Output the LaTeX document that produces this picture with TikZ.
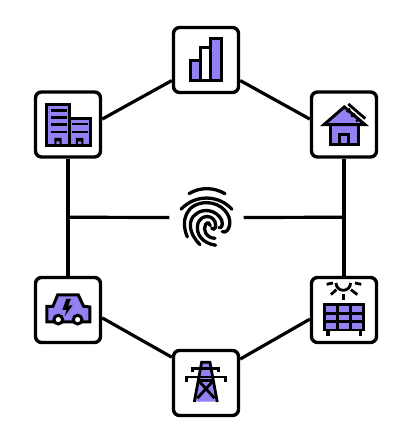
\documentclass[tikz,border=0pt]{standalone}
\usepackage{tikz}
\usetikzlibrary{calc}
\definecolor{iconfill}{HTML}{9181F2}

\begin{document}
\begin{tikzpicture}[x=1pt, y=-1pt,
    hub/.style={draw, fill=white, line width=3.4pt, rounded corners=6pt,
                minimum size=65pt, inner sep=0pt},
    link/.style={line width=3.2pt},
    ico/.style={draw, fill=iconfill, line width=3pt},
    stroke/.style={line width=2.8pt},
    ridge/.style={line width=3.3pt, line cap=round}]
  \useasboundingbox (0,0) rectangle (408,446);

  %% Device boxes
  \node[hub] (bars)   at (206, 60)     {};
  \node[hub] (office) at (68, 124.5)   {};
  \node[hub] (house)  at (344,124.5)   {};
  \node[hub] (car)    at (68, 310)     {};
  \node[hub] (solar)  at (344,310)     {};
  \node[hub] (tower)  at (206,383)     {};
  \node[minimum size=74pt, inner sep=0pt] (print) at (206.5,217.5) {};

  %% Ring
  \draw[link] (office.9)  -- (bars.211);
  \draw[link] (bars.-31)  -- (house.171);
  \draw[link] (car.-13)   -- (tower.143);
  \draw[link] (tower.35)  -- (solar.195);
  \draw[link] (office) -- (car);
  \draw[link] (house) -- (solar);

  %% Spokes
  \coordinate (jl) at ($(office)!0.5!(car)$);
  \coordinate (jr) at ($(house)!0.5!(solar)$);
  \draw[link] (jl) -- (print.west);
  \draw[link] (print.east) -- (jr);

  %% Bar chart
  \begin{scope}[shift={(160,15)}, x=0.333pt, y=-0.333pt]
    \draw[ico] (92,137) rectangle (122,198);
    \draw[ico, fill=white] (122,98) rectangle (153,198);
    \draw[ico] (153,72) rectangle (185,198);
  \end{scope}

  %% Office
  \begin{scope}[shift={(25,82)}, x=0.333pt, y=-0.333pt]
    \draw[ico] (65,67) rectangle (133,190);
    \draw[ico] (133,110) rectangle (196,190);
    \foreach \yy in {86,106,128,150} \draw[stroke] (78,\yy) -- (126,\yy);
    \foreach \yy in {126,150} \draw[stroke] (140,\yy) -- (190,\yy);
    \fill (88,190) -- (88,168) -- (110,168) -- (110,190) -- (104,190) -- (104,178) -- (94,178) -- (94,190) -- cycle;
    \fill (153,190) -- (153,168) -- (175,168) -- (175,190) -- (169,190) -- (169,178) -- (159,178) -- (159,190) -- cycle;
  \end{scope}

  %% House with roof panel
  \begin{scope}[shift={(300,82)}, x=0.333pt, y=-0.333pt]
    \draw[ico] (92,128) rectangle (175,188);
    \draw[ico, fill=iconfill] (120,158) rectangle (147,188);
    \draw[ico, miter limit=3] (72,128) -- (133,75) -- (195,128) -- cycle;
    \draw[stroke] (145,66) -- (196,110);
    \foreach \aa/\bb in {150/140,165/154,180/168} \draw[line width=2.2pt] (\aa,{\aa-70}) -- (\bb,{\bb-50});
  \end{scope}

  %% Electric car
  \begin{scope}[shift={(25,267)}, x=0.333pt, y=-0.333pt]
    \draw[ico] (66,118) -- (84,118) -- (98,84) -- (160,84) -- (176,118) -- (195,120) -- (195,165) -- (66,165) -- cycle;
    \fill (124,96) -- (112,129) -- (125,129) -- (119,148) -- (143,115) -- (130,115) -- (138,96) -- cycle;
    \draw[ico, fill=white] (100,158) circle (13);
    \draw[ico, fill=white] (158,158) circle (13);
  \end{scope}

  %% Sun and panel
  \begin{scope}[shift={(300,267)}, x=0.333pt, y=-0.333pt]
    \draw[stroke] (108,48) arc[start angle=180, end angle=0, radius=22];
    \draw[stroke] (80,52) -- (99,48);
    \draw[stroke] (165,48) -- (184,52);
    \draw[stroke] (93,83) -- (109,68);
    \draw[stroke] (153,68) -- (172,83);
    \draw[stroke] (131,82) -- (131,100);
    \fill (68,108) rectangle (195,192);
    \foreach \xx in {78,117,156} \foreach \yy in {118,143,168}
      \fill[iconfill] (\xx,\yy) rectangle ++(30,17);
    \draw[line width=3.2pt] (84,190) -- (84,208);
    \draw[line width=3.2pt] (181,190) -- (181,208);
  \end{scope}

  %% Pylon
  \begin{scope}[shift={(160,340)}, x=0.333pt, y=-0.333pt]
    \fill[iconfill] (125,68) -- (150,68) -- (170,185) -- (105,185) -- cycle;
    \draw[stroke] (103,186) -- (125,67) -- (150,67) -- (172,186);
    \draw[stroke] (98,97) -- (98,86) -- (176,86) -- (176,97);
    \draw[stroke] (80,126) -- (80,111) -- (196,111) -- (196,126);
    \draw[stroke] (112,175) -- (160,122);
    \draw[stroke] (116,122) -- (164,175);
    \draw[stroke] (118,122) -- (158,122);
  \end{scope}

  %% Fingerprint
  \begin{scope}[shift={(165,175)}, x=0.333pt, y=-0.333pt]
    \draw[ridge] (72,56) .. controls (105,36) and (145,36) .. (180,56);
    \draw[ridge] (48,103) .. controls (90,58) and (160,58) .. (201,103);
    \draw[ridge] (67,186) .. controls (45,135) and (65,84) .. (125,83)
                 .. controls (170,83) and (200,120) .. (194,150)
                 .. controls (192,165) and (182,175) .. (172,170);
    \draw[ridge] (105,209) .. controls (70,175) and (68,135) .. (92,118)
                 .. controls (115,98) and (155,105) .. (170,135)
                 .. controls (174,148) and (172,160) .. (162,158);
    \draw[ridge] (152,211) .. controls (115,205) and (90,180) .. (99,145)
                 .. controls (108,120) and (140,118) .. (150,140)
                 .. controls (155,155) and (150,168) .. (140,160);
    \draw[ridge] (150,190) .. controls (125,190) and (112,165) .. (122,148)
                 .. controls (128,140) and (135,145) .. (136,152);
  \end{scope}
\end{tikzpicture}
\end{document}
